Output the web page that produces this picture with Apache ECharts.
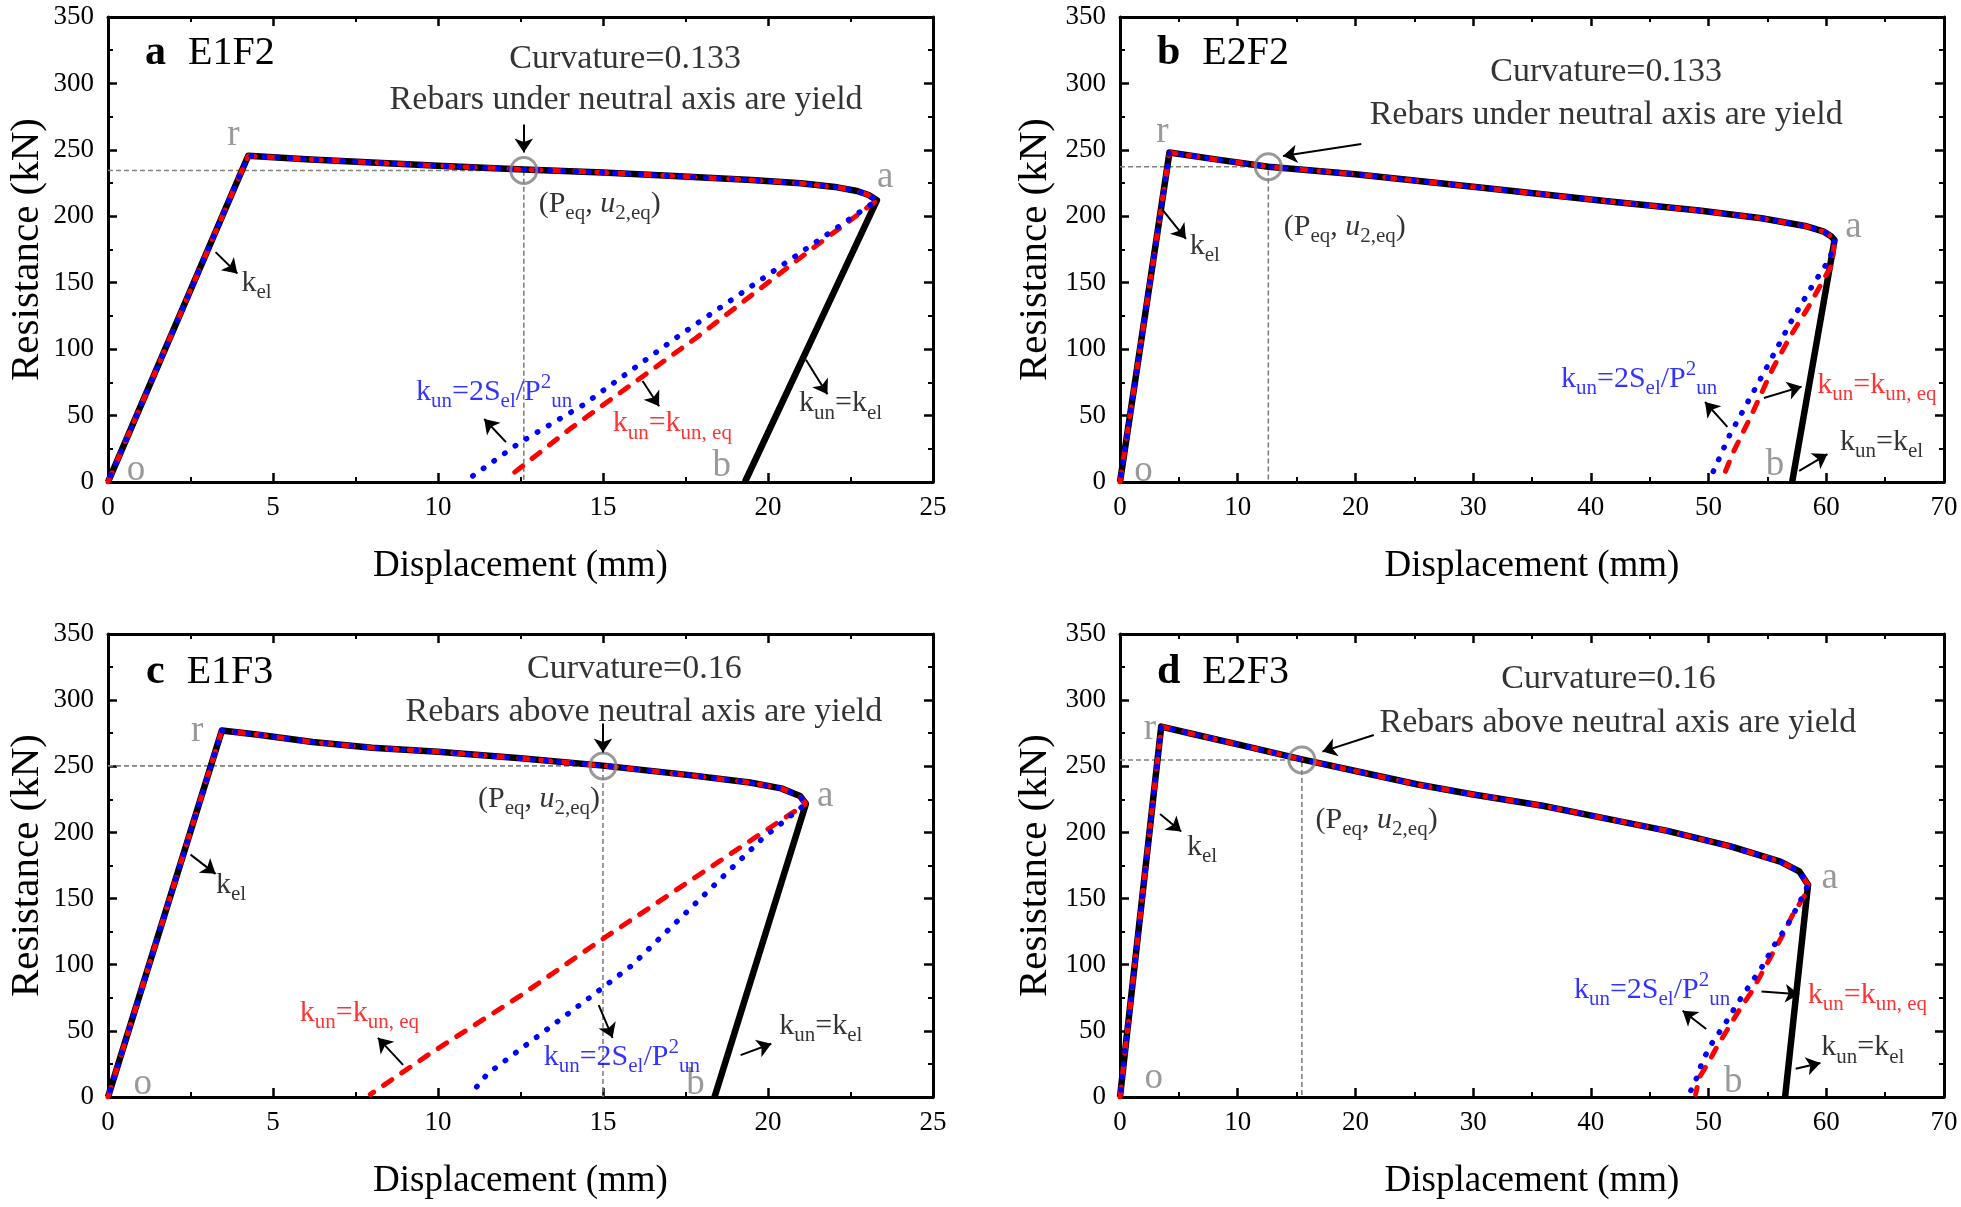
<!DOCTYPE html>
<html><head><meta charset="utf-8">
<script src="https://cdn.jsdelivr.net/npm/echarts@6/dist/echarts.min.js"></script>
<style>html,body{margin:0;padding:0;background:#fff}#c{width:1961px;height:1207px}</style>
</head><body><div id="c"></div>
<script>
// ---- tick labels ----
const xTicksE1 = [0, 5, 10, 15, 20, 25];
const xTicksE2 = [0, 10, 20, 30, 40, 50, 60, 70];
const yTicks = [0, 50, 100, 150, 200, 250, 300, 350];

// ---- panel a : E1F2 ----
const a_load  = [[0,0],[4.25,245.5],[6,243],[8,240.5],[10,238],[12.6,235.3],[15,233],[17,230.5],[19.5,227.3],[21,224.8],[22.1,221.8],[22.7,219],[23.05,216],[23.3,212]];
const a_unKel = [[23.3,212],[19.3,0]];
const a_unEq  = [[23.3,212],[21.2,173],[17.85,109],[14,40],[12.2,5]];
const a_unS   = [[23.3,212],[21.3,178],[17.3,110],[14.4,58],[12.5,30],[10.85,1]];
const a_eq    = [12.6, 234.5];

// ---- panel b : E2F2 ----
const b_load  = [[0,0],[4.2,248],[8,243],[12.6,237.3],[20,231.7],[30.6,221.6],[41.2,211.5],[49.2,204.3],[54.5,198.5],[58.2,192.7],[59.8,188.4],[60.4,185],[60.7,182]];
const b_unKel = [[60.7,182],[57.1,0]];
const b_unEq  = [[60.7,182],[60.5,164],[58.5,132],[56.9,109],[55.4,84.5],[53.7,51.4],[52.1,22.5],[51.2,3]];
const b_unS   = [[60.7,182],[60.3,168],[58.9,149],[57.0,120.6],[55.1,88.9],[53.5,62.9],[51.8,35.5],[50.1,2]];
const b_eq    = [12.6, 237.3];

// ---- panel c : E1F3 ----
const c_load  = [[0,0],[3.45,277],[4.5,274],[6.2,268.3],[8,264],[10,261],[12.5,256],[15,250.5],[17.56,243.5],[19.45,237.7],[20.4,233.3],[20.97,227.5],[21.15,221.7]];
const c_unKel = [[21.15,221.7],[18.38,0]];
const c_unEq  = [[21.15,221.7],[19.83,199.8],[17.37,159],[14.91,118.1],[12.45,75.8],[9.8,33.5],[7.95,2]];
const c_unS   = [[21.15,221.7],[19.83,195.4],[18.5,163.3],[17.18,131.2],[15.86,99.2],[14.63,75.8],[12.83,42.3],[11.5,17.5],[11.05,4]];
const c_eq    = [15.0, 250.3];

// ---- panel d : E2F3 ----
const d_load  = [[0,0],[3.5,280],[6,274.8],[10,266.5],[15.45,255.2],[20,246.4],[25.3,236.2],[30,228.7],[35.9,220.2],[41,211],[46.5,201.2],[51.8,189.6],[56.1,177.9],[57.7,170.6],[58.45,160.4]];
const d_unKel = [[58.45,160.4],[56.5,0]];
const d_unEq  = [[58.45,160.4],[58.2,153],[57.1,137],[56.3,122.5],[55.4,107.9],[54.5,93.3],[53.7,80.2],[52.6,65.6],[51.6,51],[50.8,39.4],[50.0,26.3],[49.2,14.6],[48.9,2]];
const d_unS   = [[58.45,160.4],[57.66,145.8],[56.6,128.3],[55.5,113.7],[54.6,99.2],[53.5,84.6],[52.4,70],[51.4,55.4],[50.3,40.8],[49.5,27.7],[49.0,14.6],[48.5,5]];
const d_eq    = [15.45, 254.8];

// ---- annotation anchors (data coordinates) ----
const a_ann = {curv:[15.67,318], rebar:[15.7,287.5], r:[3.8,261], a:[23.55,229], o:[0.85,9], b:[18.6,12],
  peq:[14.9,209], kel:[4.5,150], blue:[11.7,68], red:[17.1,44], black:[22.2,59],
  arrows:[[[3.26,173],[3.92,157]],[[12.06,30],[11.4,47.4]],[[16.2,76],[16.7,57]],[[21.15,92],[21.8,66]],[[12.6,269],[12.6,248]]]};
const b_ann = {curv:[41.3,308.5], rebar:[41.3,276], r:[3.6,263], a:[62.3,192], o:[2.0,8.3], b:[55.65,12.6],
  peq:[19.1,192], kel:[7.2,177.6], blue:[44.1,77.5], red:[64.3,73], black:[64.7,30],
  arrows:[[[3.6,205],[5.6,183]],[[51.6,41.5],[49.7,60.2]],[[54.7,63.2],[57.9,71.8]],[[57.7,8.3],[60.1,21]],[[20.5,254.4],[13.85,245.4]]]};
const c_ann = {curv:[15.95,323.2], rebar:[16.24,291.1], r:[2.7,276.7], a:[21.73,227], o:[1.05,9.8], b:[17.8,9.8],
  peq:[13.06,225.5], kel:[3.73,159.9], blue:[15.57,30.2], red:[7.62,63.6], black:[21.6,53.4],
  arrows:[[[2.5,183.2],[3.26,168.7]],[[14.87,69.5],[15.29,44.7]],[[8.94,24.3],[8.18,44.7]],[[19.17,31.7],[20.1,40.3]],[[15.0,282.3],[15.0,260.5]]]};
const d_ann = {curv:[41.5,316], rebar:[42.3,283], r:[2.55,278], a:[60.3,165.7], o:[2.87,14.1], b:[52.1,11.1],
  peq:[21.8,209.4], kel:[6.97,189], blue:[45.2,81], red:[63.5,76.9], black:[63.1,37.4],
  arrows:[[[3.4,214],[5.2,200.7]],[[49.8,51.4],[47.8,65.2]],[[54.5,79.7],[57.7,77.6]],[[57.4,21.3],[59.5,25.7]],[[21.56,273.6],[17.2,261.1]]]};

const F = "'Liberation Serif','Times New Roman',serif";

const panels = [
  {tag:'a', name:'E1F2', load:a_load, unKel:a_unKel, unEq:a_unEq, unS:a_unS, eq:a_eq, xTicks:xTicksE1, ann:a_ann,
   curv:'Curvature=0.133', rebar:'Rebars under neutral axis are yield', grid:{left:108,top:17,width:825,height:465}, title:{left:140,top:26}},
  {tag:'b', name:'E2F2', load:b_load, unKel:b_unKel, unEq:b_unEq, unS:b_unS, eq:b_eq, xTicks:xTicksE2, ann:b_ann,
   curv:'Curvature=0.133', rebar:'Rebars under neutral axis are yield', grid:{left:1120,top:17,width:824,height:465}, title:{left:1152,top:26}},
  {tag:'c', name:'E1F3', load:c_load, unKel:c_unKel, unEq:c_unEq, unS:c_unS, eq:c_eq, xTicks:xTicksE1, ann:c_ann,
   curv:'Curvature=0.16', rebar:'Rebars above neutral axis are yield', grid:{left:108,top:634,width:825,height:463}, title:{left:141,top:645}},
  {tag:'d', name:'E2F3', load:d_load, unKel:d_unKel, unEq:d_unEq, unS:d_unS, eq:d_eq, xTicks:xTicksE2, ann:d_ann,
   curv:'Curvature=0.16', rebar:'Rebars above neutral axis are yield', grid:{left:1120,top:634,width:824,height:463}, title:{left:1152,top:645}}
];

function rich(color){
  return {
    m:{fontFamily:F,fontSize:30,lineHeight:40,color:color,fontWeight:'normal'},
    i:{fontFamily:F,fontSize:30,lineHeight:40,color:color,fontStyle:'italic',fontWeight:'normal'},
    s:{fontFamily:F,fontSize:21,lineHeight:21,color:color,verticalAlign:'bottom',fontWeight:'normal'},
    p:{fontFamily:F,fontSize:21,lineHeight:21,color:color,verticalAlign:'top',fontWeight:'normal'},
    t:{fontFamily:F,fontSize:34,lineHeight:40,color:color,fontWeight:'normal'},
    g:{fontFamily:F,fontSize:37,lineHeight:40,color:'#808080',fontWeight:'normal'}
  };
}

const grids=[], xAxes=[], yAxes=[], series=[], titles=[];
const tickLine = {color:'#000', width:2.5};
panels.forEach((p,i)=>{
  grids.push(Object.assign({}, p.grid, {outerBoundsMode:'none', containLabel:false}));
  const xmin=p.xTicks[0], xmax=p.xTicks[p.xTicks.length-1], xint=p.xTicks[1]-p.xTicks[0];
  const ymin=yTicks[0], ymax=yTicks[yTicks.length-1], yint=yTicks[1]-yTicks[0];
  const common = {
    type:'value', gridIndex:i, splitLine:{show:false},
    axisLine:{show:true,onZero:false,lineStyle:{color:'#000',width:3}},
    axisTick:{show:true,inside:true,length:9,lineStyle:tickLine},
    minorTick:{show:true,splitNumber:2,length:5,lineStyle:{color:'#000',width:2}},
    minorSplitLine:{show:false}
  };
  const tickLbl = {show:true,fontFamily:F,fontSize:27,fontWeight:'normal',color:'#000',showMinLabel:true,showMaxLabel:true};
  xAxes.push(Object.assign({}, common, {position:'bottom', min:xmin, max:xmax, interval:xint,
    axisLabel:Object.assign({margin:12}, tickLbl),
    name:'Displacement (mm)', nameLocation:'middle', nameGap:66,
    nameTextStyle:{fontFamily:F,fontSize:37,color:'#000'}}));
  xAxes.push(Object.assign({}, common, {position:'top', min:xmin, max:xmax, interval:xint, axisLabel:{show:false}}));
  yAxes.push(Object.assign({}, common, {position:'left', min:ymin, max:ymax, interval:yint,
    axisLabel:Object.assign({margin:14}, tickLbl),
    name:'Resistance (kN)', nameLocation:'middle', nameGap:i%2===0?60:64,
    nameTextStyle:{fontFamily:F,fontSize:41,color:'#000'}}));
  yAxes.push(Object.assign({}, common, {position:'right', min:ymin, max:ymax, interval:yint, axisLabel:{show:false}}));

  const xi=2*i, yi=2*i;
  const base = {type:'line', xAxisIndex:xi, yAxisIndex:yi, symbol:'none', showSymbol:false, animation:false, silent:true};
  // gray guide lines to the equivalent point
  series.push(Object.assign({}, base, {data:[[0,p.eq[1]],[p.eq[0],p.eq[1]],[p.eq[0],0]],
    lineStyle:{color:'#808080',width:1.6,type:[5,3]}, z:1}));
  series.push(Object.assign({}, base, {name:p.tag+' kel', data:p.load.concat(p.unKel.slice(1)),
    lineStyle:{color:'#000',width:6.5,join:'round'}, z:2}));
  series.push(Object.assign({}, base, {name:p.tag+' keq', data:p.load.concat(p.unEq.slice(1)),
    lineStyle:{color:'#ff0000',width:5,type:[10,12],cap:'round'}, z:3}));
  series.push(Object.assign({}, base, {name:p.tag+' kS', data:p.load.concat(p.unS.slice(1)),
    lineStyle:{color:'#0000ff',width:5.5,type:[0.5,12.5],cap:'round',dashOffset:6}, z:4}));
  // circle
  series.push({type:'scatter', xAxisIndex:xi, yAxisIndex:yi, data:[p.eq], symbol:'circle', symbolSize:26, silent:true,
    itemStyle:{color:'rgba(0,0,0,0)', borderColor:'#808080', borderWidth:3}, z:6, animation:false});
  // arrows
  series.push({type:'lines', coordinateSystem:'cartesian2d', xAxisIndex:xi, yAxisIndex:yi, silent:true, animation:false,
    symbol:['none','arrow'], symbolSize:14, lineStyle:{color:'#000',width:2,opacity:1,curveness:0},
    data:p.ann.arrows.map(c=>({coords:c})), z:7});
  // texts
  const A=p.ann;
  const lbl=(pos,fmt,color)=>({value:pos, label:{show:true,position:'inside',formatter:fmt,rich:rich(color),align:'center',verticalAlign:'middle'}});
  series.push({type:'scatter', xAxisIndex:xi, yAxisIndex:yi, symbolSize:1, silent:true, animation:false, z:8,
    itemStyle:{color:'rgba(0,0,0,0)'},
    data:[
      lbl(A.curv,'{t|'+p.curv+'}','#000'),
      lbl(A.rebar,'{t|'+p.rebar+'}','#000'),
      lbl(A.r,'{g|r}','#808080'), lbl(A.a,'{g|a}','#808080'), lbl(A.o,'{g|o}','#808080'), lbl(A.b,'{g|b}','#808080'),
      lbl(A.peq,'{m|(P}{s|eq}{m|, }{i|u}{s|2,eq}{m|)}','#000'),
      lbl(A.kel,'{m|k}{s|el}','#000'),
      lbl(A.blue,'{m|k}{s|un}{m|=2S}{s|el}{m|/P}{p|2}{s|un}','#0000ff'),
      lbl(A.red,'{m|k}{s|un}{m|=k}{s|un, eq}','#ff0000'),
      lbl(A.black,'{m|k}{s|un}{m|=k}{s|el}','#000')
    ]});
  titles.push({left:p.title.left, top:p.title.top, text:'{b|'+p.tag+'}{n|'+p.name+'}',
    textStyle:{fontWeight:'normal',fontFamily:F,
      rich:{b:{fontFamily:F,fontWeight:'bold',fontSize:42,lineHeight:44,color:'#000',padding:[0,22,0,0]},
            n:{fontFamily:F,fontWeight:'normal',fontSize:40,lineHeight:44,color:'#000'}}}});
});

const chart = echarts.init(document.getElementById('c'), null, {renderer:'canvas'});
chart.setOption({backgroundColor:'#fff', animation:false, textStyle:{fontFamily:F},
  title:titles, grid:grids, xAxis:xAxes, yAxis:yAxes, series:series});
</script></body></html>
